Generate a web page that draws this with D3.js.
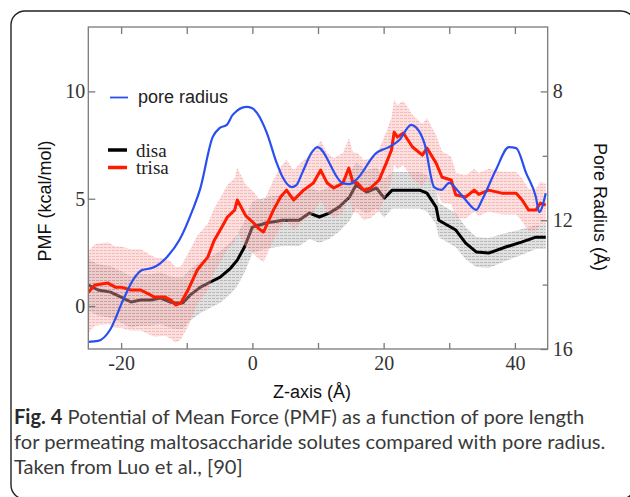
<!DOCTYPE html>
<html><head><meta charset="utf-8">
<script src="https://cdn.jsdelivr.net/npm/d3@7/dist/d3.min.js"></script>
<style>html,body{margin:0;padding:0;background:#fff;}svg{display:block;}</style>
</head><body>
<svg id="chart" width="630" height="497"></svg>
<script>
// ---- Data ----
const poreZ = [-25,-23.5,-21.7,-19.7,-18.2,-16.8,-15.2,-13.0,-11.1,-9.1,-8.0,-6.05,-5.0,-3.9,-3.0,-0.9,0.0,0.7,2.2,3.7,4.6,6.0,6.7,7.6,9.0,9.9,13.7,14.8,15.8,18.9,20.8,22.4,24.2,24.9,26.2,27.7,28.8,30.0,31.2,32.5,34.1,35.0,37.1,39.1,40.2,41.7,43.2,43.7,44.7];
const poreRadius = [15.78,15.75,15.41,14.48,13.86,13.55,13.48,13.14,12.61,11.68,11.06,9.42,9.14,9.04,8.73,8.48,8.52,8.67,9.29,10.22,10.66,10.97,10.91,10.53,9.91,9.73,10.84,10.88,10.75,9.91,9.73,9.51,9.04,9.11,9.60,10.97,11.06,10.84,11.06,11.37,11.68,11.37,10.44,9.73,9.76,10.53,11.28,11.75,11.16];

const trisaZ = [-25,-24.0,-22.0,-20.9,-20.0,-18.5,-17.0,-14.9,-13.3,-12.4,-11.7,-10.9,-9.8,-8.4,-6.8,-5.8,-4.9,-3.8,-2.7,-2.3,-1.0,0.2,1.0,1.7,3.2,4.3,5.2,6.3,7.8,9.3,10.4,11.4,12.4,13.8,14.7,15.3,16.0,17.0,18.0,19.3,20.4,21.2,21.6,22.1,23.0,24.4,25.9,26.6,28.0,28.9,30.3,31.0,32.5,33.8,34.5,36.0,38.0,40.2,41.1,42.1,43.2,43.9,44.7];
const trisaPMF = [0.65,0.98,1.07,0.88,0.88,0.75,0.75,0.42,0.42,0.28,0.05,0.14,0.75,1.68,2.28,3.07,3.54,4.15,4.47,4.94,4.2,3.87,3.6,3.45,4.47,5.08,5.4,4.94,5.4,5.73,6.33,5.73,5.5,5.73,6.43,5.78,5.73,5.4,5.5,5.87,6.66,7.27,8.1,7.87,8.06,7.41,7.03,7.36,6.66,6.0,5.87,5.17,5.08,5.4,5.2,5.4,5.26,5.26,4.94,4.47,4.47,4.8,4.7];
const trisaErr = [1.9,1.9,1.9,1.9,1.9,1.9,1.9,1.85,1.8,1.8,1.75,1.7,1.7,1.6,1.55,1.5,1.5,1.5,1.5,1.5,1.45,1.45,1.4,1.4,1.4,1.4,1.4,1.4,1.4,1.4,1.4,1.4,1.4,1.4,1.4,1.4,1.4,1.4,1.4,1.45,1.45,1.5,1.5,1.5,1.5,1.5,1.45,1.4,1.3,1.2,1.1,1.05,1.0,1.0,1.0,1.0,1.0,1.0,1.0,1.0,1.0,1.0,1.0];

const disaZ = [-25,-23.5,-21.6,-20.0,-18.5,-17.0,-15.5,-14.0,-12.6,-11.7,-10.6,-9.5,-7.9,-6.4,-4.9,-3.3,-2.3,-1.2,0.0,2.1,4.6,7.1,8.7,10.2,11.7,13.2,14.8,15.8,17.4,18.9,20.1,21.3,22.4,25.5,26.6,28.0,28.4,31.0,32.5,34.1,36.0,38.6,41.0,43.2,44.7];
const disaPMF = [0.98,0.75,0.65,0.42,0.19,0.28,0.28,0.37,0.19,0.14,0.14,0.51,0.88,1.12,1.35,1.77,2.14,2.75,3.68,3.87,4.0,4.0,4.33,4.15,4.33,4.61,5.08,5.64,5.31,5.5,5.03,5.4,5.4,5.4,5.26,4.61,4.0,3.54,2.93,2.52,2.47,2.75,2.98,3.21,3.21];
const disaErr = [1.2,1.2,1.2,1.2,1.2,1.2,1.2,1.2,1.2,1.2,1.2,1.2,1.2,1.2,1.2,1.2,1.2,1.2,1.2,1.2,1.2,1.2,1.2,1.2,1.2,1.15,1.1,1.05,1.0,0.95,0.9,0.85,0.85,0.85,0.85,0.8,0.8,0.8,0.75,0.7,0.7,0.65,0.6,0.55,0.55];

const xTicks = [-20,-10,0,10,20,30,40];
const xTickLabels = ["-20","","0","","20","","40"];
const pmfTicks = [0,5,10];
const pmfTickLabels = ["0","5","10"];
const radiusTicks = [8,10,12,14,16];
const radiusTickLabels = ["8","","12","","16"];
const legendItems = ["pore radius","disa","trisa"];
const captionBold = "Fig. 4";
const captionLines = [" Potential of Mean Force (PMF) as a function of pore length",
  "for permeating maltosaccharide solutes compared with pore radius.",
  "Taken from Luo et al., [90]"];

// ---- Layout ----
const svg = d3.select("#chart");
const L = 88.3, R = 547.7, T = 27, B = 349;
const x = d3.scaleLinear().domain([-25,45]).range([L,R]);
const yP = d3.scaleLinear().domain([-2,13]).range([B,T]);
const yR = d3.scaleLinear().domain([6,16]).range([T,B]);

// outer rounded frame
svg.append("rect").attr("x",11).attr("y",11).attr("width",624).attr("height",488)
  .attr("rx",14).attr("fill","none").attr("stroke","#222").attr("stroke-width",1.4);

// patterns for hatched error bands
const defs = svg.append("defs");
const pr = defs.append("pattern").attr("id","pr").attr("width",4).attr("height",3).attr("patternUnits","userSpaceOnUse");
pr.append("rect").attr("width",4).attr("height",3).attr("fill","rgba(248,175,175,0.40)");
pr.append("line").attr("x1",0).attr("x2",3).attr("y1",1.5).attr("y2",1.5).attr("stroke","rgba(232,80,80,0.33)").attr("stroke-width",0.8);
const pg = defs.append("pattern").attr("id","pg").attr("width",4).attr("height",3).attr("patternUnits","userSpaceOnUse");
pg.append("rect").attr("width",4).attr("height",3).attr("fill","rgba(195,195,195,0.5)");
pg.append("line").attr("x1",0).attr("x2",3).attr("y1",1.5).attr("y2",1.5).attr("stroke","rgba(80,80,80,0.35)").attr("stroke-width",0.8);
defs.append("clipPath").attr("id","clip").append("rect").attr("x",L).attr("y",T).attr("width",R-L).attr("height",B-T);

const plot = svg.append("g").attr("clip-path","url(#clip)");
const disa = disaZ.map((z,i)=>({z, v:disaPMF[i], e:disaErr[i]}));
const trisa = trisaZ.map((z,i)=>({z, v:trisaPMF[i], e:trisaErr[i]}));
const pore = poreZ.map((z,i)=>({z, r:poreRadius[i]}));

const band = d3.area().x(d=>x(d.z)).y0(d=>yP(d.v-d.e)).y1(d=>yP(d.v+d.e));
const pline = d3.line().x(d=>x(d.z)).y(d=>yP(d.v));

plot.append("path").datum(disa).attr("d",band).attr("fill","url(#pg)");
plot.append("path").datum(disa).attr("d",pline).attr("fill","none").attr("stroke","#000").attr("stroke-width",3).attr("stroke-linejoin","round");
plot.append("path").datum(trisa).attr("d",band).attr("fill","url(#pr)");
plot.append("path").datum(trisa).attr("d",pline).attr("fill","none").attr("stroke","#ff1a00").attr("stroke-width",3).attr("stroke-linejoin","round");
plot.append("path").datum(pore)
  .attr("d", d3.line().x(d=>x(d.z)).y(d=>yR(d.r)).curve(d3.curveMonotoneX))
  .attr("fill","none").attr("stroke","#2a4ff0").attr("stroke-width",2.2);

// frame
svg.append("rect").attr("x",L).attr("y",T).attr("width",R-L).attr("height",B-T)
  .attr("fill","none").attr("stroke","#7a7a7a").attr("stroke-width",1.3);

const serif = "'Liberation Serif','Times New Roman',serif";
const sans = "'Liberation Sans',Arial,sans-serif";
function styleAxis(g){
  g.select(".domain").remove();
  g.selectAll(".tick line").attr("stroke","#7a7a7a").attr("stroke-width",1.3);
  g.selectAll(".tick text").attr("fill","#333").style("font-family",serif).style("font-size","20px");
}
const lbl = (ticks, labels) => d => labels[ticks.indexOf(d)];
svg.append("g").attr("transform",`translate(0,${B})`)
  .call(d3.axisBottom(x).tickValues(xTicks).tickFormat(lbl(xTicks,xTickLabels)).tickSizeInner(-6).tickSizeOuter(0).tickPadding(7))
  .call(styleAxis);
svg.append("g").attr("transform",`translate(0,${T})`)
  .call(d3.axisTop(x).tickValues(xTicks).tickFormat("").tickSizeInner(-7).tickSizeOuter(0))
  .call(styleAxis);
svg.append("g").attr("transform",`translate(${L},0)`)
  .call(d3.axisLeft(yP).tickValues(pmfTicks).tickFormat(lbl(pmfTicks,pmfTickLabels)).tickSizeInner(-7).tickSizeOuter(0).tickPadding(3))
  .call(styleAxis);
const ra = svg.append("g").attr("transform",`translate(${R},0)`)
  .call(d3.axisRight(yR).tickValues(radiusTicks).tickFormat(lbl(radiusTicks,radiusTickLabels)).tickSizeInner(-7).tickSizeOuter(0).tickPadding(5))
  .call(styleAxis);
ra.selectAll(".tick line").attr("x2", d => radiusTickLabels[radiusTicks.indexOf(d)] ? -7 : -5);

// axis titles
svg.append("text").attr("transform","translate(51,201) rotate(-90)").attr("text-anchor","middle")
  .style("font-family",sans).style("font-size","18px").attr("fill","#111").text("PMF (kcal/mol)");
svg.append("text").attr("transform","translate(594,207) rotate(90)").attr("text-anchor","middle")
  .style("font-family",sans).style("font-size","18px").attr("fill","#111").text("Pore Radius (Å)");
svg.append("text").attr("x",312).attr("y",398).attr("text-anchor","middle")
  .style("font-family",sans).style("font-size","18px").attr("fill","#111").text("Z-axis (Å)");

// legend
const leg = svg.append("g");
const legColors = ["#2a4ff0","#000","#ff1a00"];
const legY = [97.5,150,167.5];
const legW = [1.8,3.5,3.5];
legendItems.forEach((t,i)=>{
  leg.append("line").attr("x1",i?108:110).attr("x2",i?127:128).attr("y1",legY[i]).attr("y2",legY[i])
    .attr("stroke",legColors[i]).attr("stroke-width",legW[i]);
  leg.append("text").attr("x",i?136:138).attr("y",legY[i]+(i?6.5:5))
    .style("font-family",i?serif:sans).style("font-size",i?"19px":"18px").attr("fill","#222").text(t);
});

// caption
const capFont = "Lato,'Open Sans',sans-serif";
const capY = [424,449,474];
const capTexts = captionLines.map((line,i)=>{
  const t = svg.append("text").attr("x",14).attr("y",capY[i]).style("font-family",capFont).style("font-size","17px").attr("fill","#3a3a3a");
  if(i===0) t.append("tspan").style("font-weight","bold").attr("fill","#2a2a2a").text(captionBold);
  t.append("tspan").text(line);
  return t;
});
const w2 = capTexts[1].node().getComputedTextLength();
const fs = 17*592/w2;
capTexts.forEach(t=>t.style("font-size",fs+"px"));
</script>
</body></html>
